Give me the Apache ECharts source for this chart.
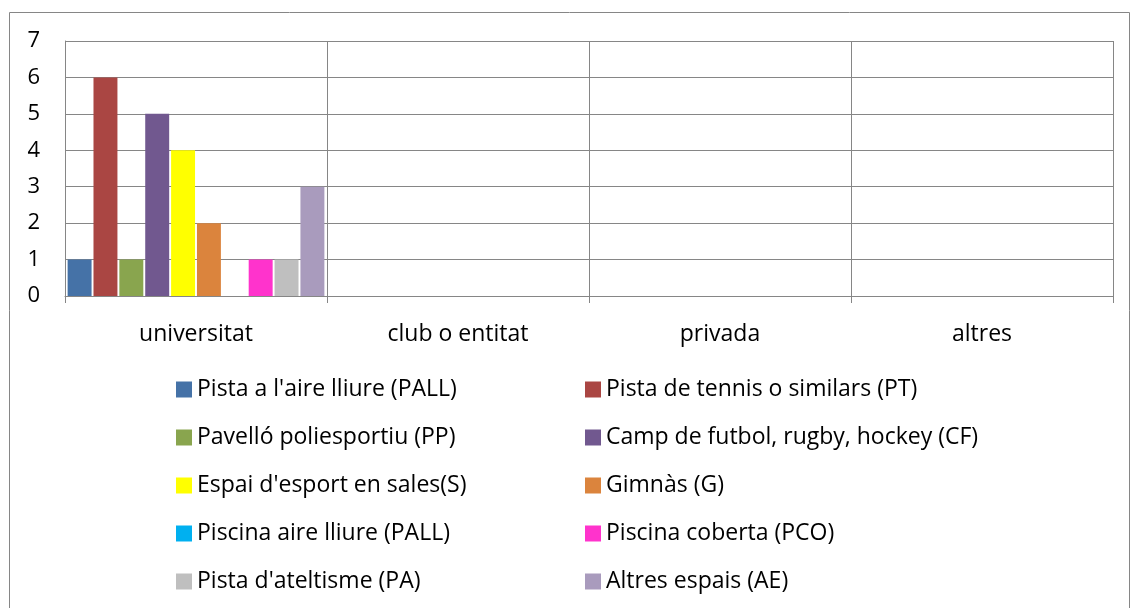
<!DOCTYPE html>
<html>
<head>
<meta charset="utf-8">
<script src="https://cdn.jsdelivr.net/npm/echarts@6/dist/echarts.min.js"></script>
<style>
  html, body { margin: 0; padding: 0; background: #fff; }
  #chart { width: 1131px; height: 608px; }
</style>
</head>
<body>
<div id="chart"></div>
<script>
  // categories on the x axis
  const categories = ['universitat', 'club o entitat', 'privada', 'altres'];

  // one array per space type, in legend order
  const pistaAireLliure = [1, 0, 0, 0];
  const pistaTennis = [6, 0, 0, 0];
  const pavello = [1, 0, 0, 0];
  const campFutbol = [5, 0, 0, 0];
  const espaiSales = [4, 0, 0, 0];
  const gimnas = [2, 0, 0, 0];
  const piscinaAireLliure = [0, 0, 0, 0];
  const piscinaCoberta = [1, 0, 0, 0];
  const pistaAtletisme = [1, 0, 0, 0];
  const altresEspais = [3, 0, 0, 0];

  const seriesNames = [
    "Pista a l'aire lliure (PALL)",
    'Pista de tennis o similars (PT)',
    'Pavelló poliesportiu (PP)',
    'Camp de futbol, rugby, hockey (CF)',
    "Espai d'esport en sales(S)",
    'Gimnàs (G)',
    'Piscina aire lliure (PALL)',
    'Piscina coberta (PCO)',
    "Pista d'ateltisme (PA)",
    'Altres espais (AE)'
  ];
  const seriesValues = [
    pistaAireLliure, pistaTennis, pavello, campFutbol, espaiSales,
    gimnas, piscinaAireLliure, piscinaCoberta, pistaAtletisme, altresEspais
  ];

  const colors = ['#4572A7', '#AA4643', '#89A54E', '#71588F', '#FFFF00',
                  '#DB843D', '#00B0F0', '#FF33CC', '#BFBFBF', '#A99BBD'];

  const font = '"Open Sans", "Noto Sans", sans-serif';
  const fontSize = 23;
  const gridColor = '#868686';

  let chart = echarts.init(document.getElementById('chart'));

  let legendBase = {
    orient: 'vertical',
    top: 378,
    padding: 0,
    itemWidth: 16,
    itemHeight: 16,
    itemGap: 25,
    icon: 'rect',
    textStyle: { fontFamily: font, fontSize: fontSize, color: '#000' }
  };

  chart.setOption({
    color: colors,
    animation: false,
    textStyle: { fontFamily: font },
    graphic: [{
      type: 'rect',
      shape: { x: 9.5, y: 12.5, width: 1120, height: 620 },
      style: { fill: null, stroke: gridColor, lineWidth: 1 },
      silent: true
    }],
    grid: { left: 65, right: 18, top: 41, bottom: 312, containLabel: false },
    legend: [
      Object.assign({}, legendBase, { left: 176, data: seriesNames.filter((n, i) => i % 2 === 0) }),
      Object.assign({}, legendBase, { left: 585, data: seriesNames.filter((n, i) => i % 2 === 1) })
    ],
    xAxis: {
      type: 'category',
      data: categories,
      axisLine: { show: true, lineStyle: { color: gridColor, width: 1 } },
      axisTick: { show: true, length: 7, lineStyle: { color: gridColor } },
      splitLine: { show: true, lineStyle: { color: gridColor, width: 1 } },
      axisLabel: { color: '#000', fontSize: fontSize, fontFamily: font, margin: 27 }
    },
    yAxis: {
      type: 'value',
      min: 0,
      max: 7,
      interval: 1,
      axisLine: { show: true, lineStyle: { color: gridColor } },
      axisTick: { show: false },
      splitLine: { show: true, lineStyle: { color: gridColor, width: 1 } },
      axisLabel: { color: '#000', fontSize: 22, fontFamily: font, margin: 25 }
    },
    series: seriesNames.map((name, i) => ({
      name: name,
      type: 'bar',
      data: seriesValues[i],
      barGap: '8%',
      barCategoryGap: '2%'
    }))
  });
</script>
</body>
</html>
